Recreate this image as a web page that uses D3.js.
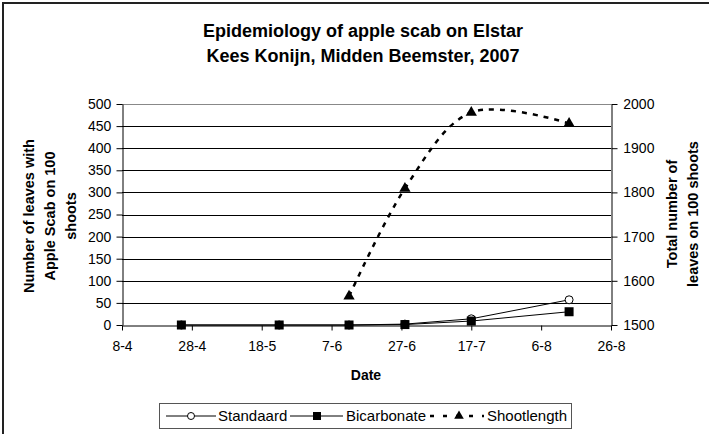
<!DOCTYPE html>
<html><head><meta charset="utf-8">
<script src="https://cdn.jsdelivr.net/npm/d3@7"></script>
<style>body{margin:0;background:#fff;}svg{display:block;font-family:"Liberation Sans",Arial,sans-serif;}</style>
</head><body>
<svg id="c" width="709" height="434"></svg>
<script>
const dates = ["2007-04-25","2007-05-23","2007-06-12","2007-06-28","2007-07-17","2007-08-14"];
const standaard = [0,0,0,2,14,57];
const bicarbonate = [0,0,0,1,9,30];
const shootDates = ["2007-06-12","2007-06-28","2007-07-17","2007-08-14"];
const shootlength = [1565,1809,1981,1956];
const xTickDates = ["2007-04-08","2007-04-28","2007-05-18","2007-06-07","2007-06-27","2007-07-17","2007-08-06","2007-08-26"];
const leftTicks = [0,50,100,150,200,250,300,350,400,450,500];
const rightTicks = [1500,1600,1700,1800,1900,2000];

const svg = d3.select("#c");
const L=122,R=611,T=104,B=325;
const parse = d3.utcParse("%Y-%m-%d");
const x = d3.scaleUtc().domain([parse("2007-04-08"),parse("2007-08-26")]).range([L,R]);
const y = d3.scaleLinear().domain([0,500]).range([B,T]);
const y2 = d3.scaleLinear().domain([1500,2000]).range([B,T]);

// outer border
svg.append("rect").attr("x",3).attr("y",3).attr("width",740).attr("height",470)
  .attr("fill","none").attr("stroke","#222").attr("stroke-width",2);

// title
const title = svg.append("text").attr("text-anchor","middle").attr("font-weight","bold").attr("font-size",18).attr("fill","#000");
title.append("tspan").attr("x",363).attr("y",37).text("Epidemiology of apple scab on Elstar");
title.append("tspan").attr("x",363).attr("y",62).text("Kees Konijn, Midden Beemster, 2007");

// gridlines
svg.append("g").selectAll("line").data(leftTicks.filter(d=>d>0)).join("line")
  .attr("x1",L).attr("x2",R).attr("y1",d=>Math.round(y(d))+0.5).attr("y2",d=>Math.round(y(d))+0.5)
  .attr("stroke",d=>d===500?"#888":"#000").attr("stroke-width",1);

// axes
const fmt = d3.utcFormat("%-d-%-m");
const gx = svg.append("g").attr("transform",`translate(0,${B+0.5})`)
  .call(d3.axisBottom(x).tickValues(xTickDates.map(parse)).tickFormat(fmt).tickSize(5).tickSizeOuter(0));
const gl = svg.append("g").attr("transform",`translate(${L+0.5},0)`)
  .call(d3.axisLeft(y).tickValues(leftTicks).tickFormat(d3.format("d")).tickSize(6).tickSizeOuter(0));
const gr = svg.append("g").attr("transform",`translate(${R+0.5},0)`)
  .call(d3.axisRight(y2).tickValues(rightTicks).tickFormat(d3.format("d")).tickSize(6).tickSizeOuter(0));
[gx,gl,gr].forEach(g=>{
  g.selectAll("text").attr("font-size",14).attr("font-family","Liberation Sans, Arial, sans-serif").attr("fill","#000");
  g.selectAll("line,path").attr("stroke","#000");
});
gx.selectAll("text").attr("dy","1.28em");
gl.selectAll("text").attr("dx","-0.15em");
gr.selectAll("text").attr("dx","0.2em");

// axis titles
svg.append("text").attr("x",366).attr("y",380).attr("text-anchor","middle").attr("font-weight","bold").attr("font-size",14).text("Date");
const lt = svg.append("text").attr("transform","translate(0,216) rotate(-90)").attr("text-anchor","middle").attr("font-weight","bold").attr("font-size",14.5);
lt.append("tspan").attr("x",0).attr("y",34).text("Number of leaves with");
lt.append("tspan").attr("x",0).attr("y",55).text("Apple Scab on 100");
lt.append("tspan").attr("x",0).attr("y",76).text("shoots");
const rt = svg.append("text").attr("transform","translate(0,214) rotate(-90)").attr("text-anchor","middle").attr("font-weight","bold").attr("font-size",14.5);
rt.append("tspan").attr("x",0).attr("y",677).text("Total number of");
rt.append("tspan").attr("x",0).attr("y",698).text("leaves on 100 shoots");

// series
const stdData = dates.map((d,i)=>({d:parse(d),v:standaard[i]}));
const bicData = dates.map((d,i)=>({d:parse(d),v:bicarbonate[i]}));
const shData = shootDates.map((d,i)=>({d:parse(d),v:shootlength[i]}));
const line1 = d3.line().x(p=>x(p.d)).y(p=>y(p.v));
const line2 = d3.line().x(p=>x(p.d)).y(p=>y2(p.v)).curve(d3.curveCardinal.tension(0));

svg.append("path").attr("d",line1(stdData)).attr("fill","none").attr("stroke","#000").attr("stroke-width",1);
svg.append("path").attr("d",line1(bicData)).attr("fill","none").attr("stroke","#000").attr("stroke-width",1);
svg.append("path").attr("d",line2(shData)).attr("fill","none").attr("stroke","#000").attr("stroke-width",2.5).attr("stroke-dasharray","5,6");

const tri = d3.symbol().type(d3.symbolTriangle).size(55);
svg.append("g").selectAll("path").data(shData).join("path")
  .attr("transform",p=>`translate(${x(p.d)},${y2(p.v)})`).attr("d",tri).attr("fill","#000");
svg.append("g").selectAll("circle").data(stdData).join("circle")
  .attr("cx",p=>x(p.d)).attr("cy",p=>y(p.v)).attr("r",4).attr("fill","#fff").attr("stroke","#000").attr("stroke-width",1);
svg.append("g").selectAll("rect").data(bicData).join("rect")
  .attr("x",p=>x(p.d)-4.5).attr("y",p=>y(p.v)-4.5).attr("width",9).attr("height",9).attr("fill","#000");

// legend
const lg = svg.append("g");
lg.append("rect").attr("x",159.5).attr("y",403.5).attr("width",412).attr("height",25).attr("fill","#fff").attr("stroke","#555").attr("stroke-width",1);
const ly = 416;
lg.append("line").attr("x1",166).attr("x2",216).attr("y1",ly).attr("y2",ly).attr("stroke","#000");
lg.append("circle").attr("cx",191).attr("cy",ly).attr("r",3.5).attr("fill","#fff").attr("stroke","#000");
lg.append("text").attr("x",218).attr("y",ly+5).attr("font-size",15).text("Standaard");
lg.append("line").attr("x1",290).attr("x2",343).attr("y1",ly).attr("y2",ly).attr("stroke","#000");
lg.append("rect").attr("x",313).attr("y",ly-4).attr("width",8).attr("height",8).attr("fill","#000");
lg.append("text").attr("x",346).attr("y",ly+5).attr("font-size",15).text("Bicarbonate");
lg.append("line").attr("x1",430).attr("x2",484).attr("y1",ly).attr("y2",ly).attr("stroke","#000").attr("stroke-width",2.5).attr("stroke-dasharray","4,9");
lg.append("path").attr("transform",`translate(459,${ly})`).attr("d",d3.symbol().type(d3.symbolTriangle).size(40)).attr("fill","#000");
lg.append("text").attr("x",487).attr("y",ly+5).attr("font-size",15).text("Shootlength");
</script>
</body></html>
